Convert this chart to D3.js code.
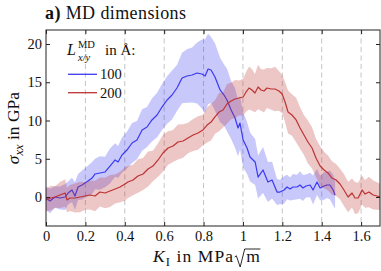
<!DOCTYPE html>
<html><head><meta charset="utf-8">
<script src="https://cdn.jsdelivr.net/npm/d3@7"></script>
<style>
body{margin:0;background:#fff}
svg{display:block}
text{font-family:"Liberation Serif","DejaVu Serif","Noto Serif",serif;fill:#111}
</style>
</head><body>
<svg id="c" width="381" height="271"></svg>
<script>
// ---------- data ----------
const xTicks = [0, 0.2, 0.4, 0.6, 0.8, 1.0, 1.2, 1.4, 1.6];
const xTickLabels = ["0", "0.2", "0.4", "0.6", "0.8", "1", "1.2", "1.4", "1.6"];
const yTicks = [0, 5, 10, 15, 20];
const yTickLabels = ["0", "5", "10", "15", "20"];
const seriesNames = ["100", "200"];

const blueK = [0,0.020,0.046,0.071,0.097,0.112,0.132,0.147,0.163,0.183,0.213,0.234,0.249,0.274,0.300,0.325,0.351,0.366,0.386,0.411,0.437,0.462,0.488,0.513,0.538,0.564,0.589,0.615,0.640,0.665,0.691,0.716,0.742,0.767,0.792,0.808,0.823,0.838,0.858,0.884,0.904,0.919,0.940,0.960,0.975,0.985,1.001,1.021,1.036,1.062,1.077,1.102,1.127,1.148,1.173,1.188,1.209,1.224,1.239,1.254,1.275,1.290,1.305,1.320,1.341,1.356,1.376,1.392,1.412,1.427,1.442,1.458,1.468];
const blueSigma = [-0.13,-0.52,0,-0.13,0,0.52,0.92,0.13,1.31,1.57,2.09,2.48,3.01,3.14,3.27,4.05,4.84,4.58,5.49,6.14,7.06,7.45,8.76,9.15,10.07,10.72,11.76,12.68,13.33,14.25,15.56,15.82,15.95,16.21,16.08,15.82,16.73,16.60,15.69,13.99,13.33,12.68,11.37,10.33,9.02,9.67,7.45,6.41,5.23,4.58,2.61,3.53,1.96,2.22,0.65,0.65,0.92,1.31,1.05,1.31,1.31,1.57,1.18,1.44,1.57,0.92,1.96,1.18,1.44,1.57,1.57,0.92,0.26];
const blueSpread = [1.5,1.6,1.4,1.5,1.7,1.5,1.6,1.8,1.7,1.9,2.0,2.1,2.0,2.2,2.0,2.3,2.2,2.1,2.3,2.4,2.6,2.5,2.7,2.6,2.8,2.9,3.0,3.1,3.2,3.0,3.3,3.5,3.6,4.0,4.5,4.8,4.6,4.3,4.4,4.2,4.0,4.1,3.8,3.9,3.7,3.5,3.6,3.4,3.2,3.0,2.8,3.0,2.6,2.4,1.7,1.6,1.8,1.6,1.5,1.7,1.6,1.8,1.7,1.5,1.6,1.9,1.7,1.6,1.8,1.7,1.9,2.0,1.8];

const redK = [0,0.025,0.046,0.071,0.097,0.107,0.122,0.147,0.173,0.198,0.223,0.249,0.274,0.300,0.325,0.351,0.376,0.401,0.416,0.442,0.467,0.493,0.518,0.543,0.569,0.594,0.620,0.645,0.670,0.696,0.721,0.747,0.772,0.797,0.818,0.838,0.858,0.879,0.899,0.919,0.940,0.960,0.980,1.001,1.016,1.031,1.046,1.061,1.077,1.092,1.107,1.122,1.143,1.163,1.183,1.199,1.214,1.229,1.249,1.270,1.290,1.310,1.330,1.351,1.371,1.392,1.412,1.432,1.452,1.473,1.493,1.513,1.534,1.554,1.569,1.585,1.605,1.620,1.640,1.661,1.681,1.700];
const redSigma = [-0.39,-0.13,0,0.26,0.52,-0.39,-0.13,-0.13,0,0.13,0.26,0.13,0.65,0.52,0.78,1.05,1.31,1.70,1.96,2.22,2.75,3.01,3.66,4.05,4.84,5.75,6.41,6.67,7.19,7.32,7.71,8.10,8.37,8.76,9.41,9.80,10.46,11.11,11.37,12.16,12.55,12.81,12.94,13.07,13.73,14.25,13.99,13.59,14.38,13.99,13.86,14.25,14.12,14.12,13.86,13.46,12.42,11.11,10.72,10.07,9.02,8.10,7.19,6.41,5.10,4.05,3.53,3.14,2.48,2.22,1.70,0.92,0,0.52,-0.13,-0.13,0.92,0.39,0.65,0.26,0.13,0];
const redSpread = [1.5,1.6,1.4,1.7,1.8,1.6,1.7,1.9,2.0,1.8,1.9,2.0,1.9,2.0,2.1,1.9,2.0,2.2,2.1,2.0,2.2,2.1,2.3,2.0,2.2,2.4,2.2,2.1,2.3,2.2,2.0,2.1,2.2,2.0,2.3,2.4,2.2,2.5,2.3,2.6,2.4,2.5,2.3,2.4,2.6,2.8,2.7,2.5,2.9,2.7,2.8,2.6,2.7,2.9,2.6,2.5,2.6,2.8,2.7,2.9,2.7,2.6,2.8,2.7,2.5,2.6,2.4,2.3,2.2,2.1,2.0,2.1,2.0,1.9,2.1,2.0,1.9,1.8,2.0,1.9,1.8,1.7];

// ---------- layout ----------
const L = 46, R = 380, T = 30, B = 226;
const svg = d3.select("#c");
const x = d3.scaleLinear().domain([0, 1.696]).range([L, R]);
const y = d3.scaleLinear().domain([-3.79, 21.83]).range([B, T]);

const blueCol = "#3a3af2", redCol = "#bd3232";

// grid (vertical dashed)
svg.append("g").selectAll("line").data(xTicks.filter(d => d > 0)).join("line")
  .attr("x1", d => x(d)).attr("x2", d => x(d)).attr("y1", T).attr("y2", B)
  .attr("stroke", "#c4c4c4").attr("stroke-width", 1).attr("stroke-dasharray", "5,3.5");

svg.append("defs").append("clipPath").attr("id", "clip")
  .append("rect").attr("x", L).attr("y", T).attr("width", R - L).attr("height", B - T);

const plot = svg.append("g").attr("clip-path", "url(#clip)");

function series(K, S, SD, col) {
  const data = K.map((k, i) => ({k, s: S[i], sd: SD[i]}));
  plot.append("path").datum(data)
    .attr("d", d3.area().x(d => x(d.k)).y0(d => y(d.s - d.sd)).y1(d => y(d.s + d.sd)))
    .attr("fill", col).attr("fill-opacity", 0.28).attr("stroke", "none");
  plot.append("path").datum(data)
    .attr("d", d3.line().x(d => x(d.k)).y(d => y(d.s)))
    .attr("fill", "none").attr("stroke", col).attr("stroke-width", 1.2).attr("stroke-linejoin", "round");
}
series(blueK, blueSigma, blueSpread, blueCol);
series(redK, redSigma, redSpread, redCol);

// axes
const axCol = "#222";
const gB = svg.append("g").attr("transform", `translate(0,${B})`)
  .call(d3.axisBottom(x).tickValues(xTicks).tickFormat((d, i) => xTickLabels[i]).tickSizeInner(-4).tickSizeOuter(0).tickPadding(5));
const gT = svg.append("g").attr("transform", `translate(0,${T})`)
  .call(d3.axisTop(x).tickValues(xTicks).tickFormat("").tickSizeInner(-4).tickSizeOuter(0));
const gL = svg.append("g").attr("transform", `translate(${L},0)`)
  .call(d3.axisLeft(y).tickValues(yTicks).tickFormat((d, i) => yTickLabels[i]).tickSizeInner(-4).tickSizeOuter(0).tickPadding(4));
const gR = svg.append("g").attr("transform", `translate(${R},0)`)
  .call(d3.axisRight(y).tickValues(yTicks).tickFormat("").tickSizeInner(-4).tickSizeOuter(0));
[gB, gT, gL, gR].forEach(g => {
  g.attr("font-family", null).attr("font-size", null);
  g.select(".domain").remove();
  g.selectAll(".tick line").attr("stroke", axCol).attr("stroke-width", 1);
  g.selectAll("text").attr("font-size", 14.5).attr("fill", "#111");
});
svg.append("rect").attr("x", L).attr("y", T).attr("width", R - L).attr("height", B - T)
  .attr("fill", "none").attr("stroke", axCol).attr("stroke-width", 1);

// title
const title = svg.append("text").attr("x", 45).attr("y", 18.5).attr("font-size", 18).attr("letter-spacing", 0.4);
title.append("tspan").attr("font-weight", "bold").text("a)");
title.append("tspan").text(" MD dimensions");

// y label
const yl = svg.append("text").attr("transform", "translate(19,128) rotate(-90)")
  .attr("text-anchor", "middle").attr("font-size", 17.5);
yl.append("tspan").attr("font-style", "italic").text("σ");
yl.append("tspan").attr("font-style", "italic").attr("font-size", 12.5).attr("dy", 3.5).text("xx");
yl.append("tspan").attr("dy", -3.5).text(" in GPa");

// x label
const xlBase = 262;
const xl = svg.append("text").attr("x", 153).attr("y", xlBase).attr("font-size", 17.5).attr("letter-spacing", 1.1);
xl.append("tspan").attr("font-style", "italic").text("K");
xl.append("tspan").attr("font-size", 12.5).attr("dy", 3.5).text("I");
xl.append("tspan").attr("dy", -3.5).text(" in MPa");
xl.append("tspan").attr("dx", 12).text("m");
const n = xl.text().length;
const ext = xl.node().getExtentOfChar(n - 1);
const mx = ext.x, mw = ext.width;
svg.append("path")
  .attr("d", `M${mx-11.5},${xlBase-5} L${mx-9.8},${xlBase-6.2} L${mx-6},${xlBase+5} L${mx-1.5},${xlBase-13} L${mx+mw-0.5},${xlBase-13}`)
  .attr("fill", "none").attr("stroke", "#111").attr("stroke-width", 0.9);

// legend
svg.append("text").attr("x", 67).attr("y", 55).attr("font-size", 16).attr("font-style", "italic").text("L");
svg.append("text").attr("x", 78).attr("y", 48).attr("font-size", 10.5).text("MD");
svg.append("text").attr("x", 78).attr("y", 60.5).attr("font-size", 10.5).attr("font-style", "italic").text("x/y");
svg.append("text").attr("x", 105).attr("y", 55).attr("font-size", 15).text("in Å:");
const legCols = [blueCol, redCol];
const legY = [74.3, 92.7];
seriesNames.forEach((nm, i) => {
  svg.append("line").attr("x1", 68).attr("x2", 97).attr("y1", legY[i]).attr("y2", legY[i])
    .attr("stroke", legCols[i]).attr("stroke-width", 1.3);
  svg.append("text").attr("x", 100).attr("y", legY[i] + 5).attr("font-size", 14.5).text(nm);
});
</script>
</body></html>
